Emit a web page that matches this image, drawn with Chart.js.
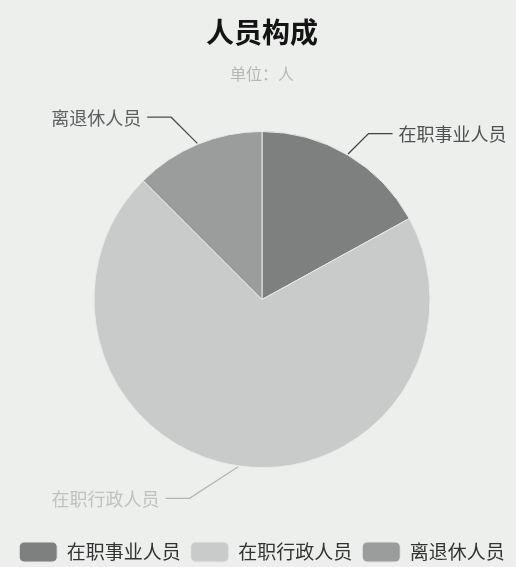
<!DOCTYPE html>
<html lang="zh-CN">
<head>
<meta charset="utf-8">
<title>人员构成</title>
<script src="https://cdn.jsdelivr.net/npm/chart.js@4.4.1/dist/chart.umd.min.js"></script>
<style>
  html, body { margin: 0; padding: 0; background: #edefed; }
  canvas { display: block; }
</style>
</head>
<body>
<canvas id="chart-personnel" width="516" height="567"></canvas>
<script>
// Effectifs par catégorie (personnes)
const categories = ["在职事业人员", "在职行政人员", "离退休人员"];
const effectifs = [34, 141, 25];

const couleursParts = ["#7d807f", "#c8cbca", "#9a9d9c"];
const couleursTextes = ["#4e5151", "#bfc2c1", "#5d6060"];
const couleursTraits = ["#3f4242", "#b2b5b4", "#4a4d4d"];

const POLICE = "'Noto Sans CJK SC', 'Noto Sans', sans-serif";

// étiquettes à l'extérieur du camembert, avec trait coudé
const etiquettesExterieures = {
  id: "etiquettesExterieures",
  afterDatasetsDraw(chart, args, opts) {
    const ctx = chart.ctx;
    const meta = chart.getDatasetMeta(0);
    ctx.save();
    meta.data.forEach((arc, i) => {
      const { x, y, startAngle, endAngle, outerRadius } = arc.getProps(
        ["x", "y", "startAngle", "endAngle", "outerRadius"],
        true,
      );
      const milieu = (startAngle + endAngle) / 2;
      const cos = Math.cos(milieu);
      const sin = Math.sin(milieu);
      const sx = cos >= 0 ? 1 : -1;
      const sy = sin >= 0 ? 1 : -1;

      const x0 = x + (outerRadius + 1) * cos;
      const y0 = y + (outerRadius + 1) * sin;
      const inclinaison = Math.min(
        Math.atan2(Math.abs(sin), Math.abs(cos)),
        (opts.inclinaisonMax[i] * Math.PI) / 180,
      );
      const x1 = x0 + sx * opts.longueurs[i] * Math.cos(inclinaison);
      const y1 = y0 + sy * opts.longueurs[i] * Math.sin(inclinaison);
      const x2 = x1 + sx * opts.queue;

      ctx.strokeStyle = opts.traits[i];
      ctx.lineWidth = 1.3;
      ctx.beginPath();
      ctx.moveTo(x0, y0);
      ctx.lineTo(x1, y1);
      ctx.lineTo(x2, y1);
      ctx.stroke();

      ctx.fillStyle = opts.textes[i];
      ctx.font = `18px ${POLICE}`;
      ctx.textAlign = sx > 0 ? "left" : "right";
      ctx.textBaseline = "middle";
      ctx.fillText(chart.data.labels[i], x2 + sx * opts.ecart, y1 + 1);
    });
    ctx.restore();
  },
};

const ctxPersonnel = document.getElementById("chart-personnel").getContext("2d");
new Chart(ctxPersonnel, {
  type: "pie",
  data: {
    labels: categories,
    datasets: [
      {
        data: effectifs,
        backgroundColor: couleursParts,
        borderColor: "#e6e9e7",
        borderWidth: 1,
        radius: 168,
      },
    ],
  },
  options: {
    responsive: false,
    animation: false,
    layout: { padding: { left: 8, right: 0, top: 0, bottom: -5 } },
    plugins: {
      title: {
        display: true,
        text: "人员构成",
        color: "#141414",
        font: { family: POLICE, size: 28, weight: "bold" },
        padding: { top: 16, bottom: 8 },
      },
      subtitle: {
        display: true,
        text: "单位：人",
        color: "#b4b7b6",
        font: { family: POLICE, size: 16 },
        padding: { top: 6.8, bottom: -16.6 },
      },
      legend: {
        position: "bottom",
        labels: {
          boxWidth: 38,
          boxHeight: 20,
          padding: 10,
          color: "#333333",
          useBorderRadius: true,
          borderRadius: 5,
          font: { family: POLICE, size: 19 },
        },
      },
      tooltip: { enabled: false },
      // ordre : 事业 (haut droite), 行政 (bas), 离退休 (haut gauche)
      etiquettesExterieures: {
        longueurs: [29, 58, 37],
        inclinaisonMax: [45, 33, 45],
        queue: 24,
        ecart: 6,
        textes: couleursTextes,
        traits: couleursTraits,
      },
    },
  },
  plugins: [etiquettesExterieures],
});
</script>
</body>
</html>
